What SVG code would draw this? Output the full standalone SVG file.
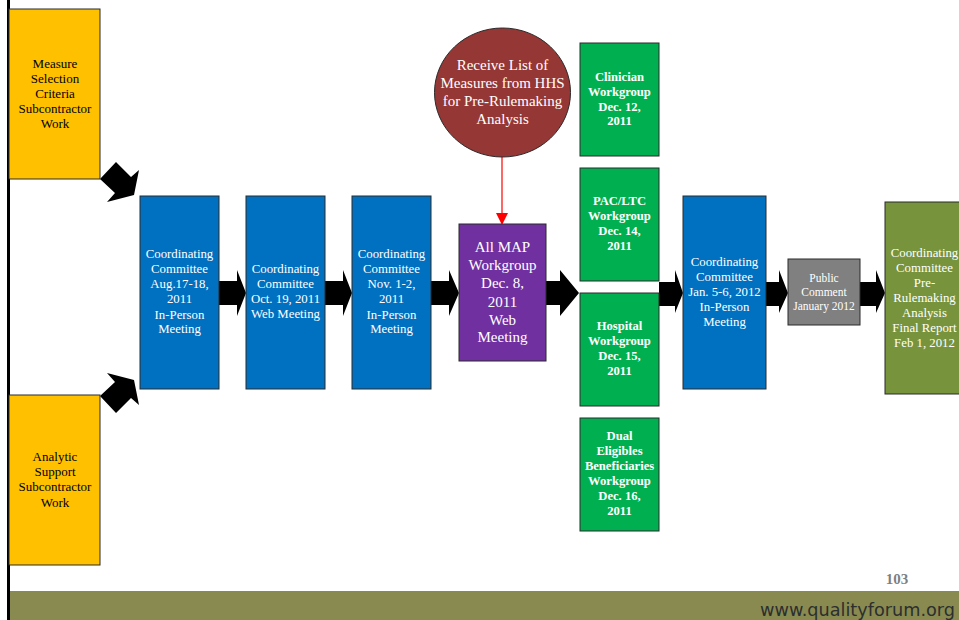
<svg xmlns="http://www.w3.org/2000/svg" width="959" height="620" viewBox="0 0 959 620">
<style>
.box{stroke:#2a2a2a;stroke-width:1}
.y{fill:#FFC000}
.b{fill:#0070C0}
.g{fill:#00B050}
.t{font-family:"Liberation Serif","Times New Roman",serif;text-anchor:middle}
.tk{fill:#000;font-size:13px}
.tw{fill:#fff;font-size:12.8px}
.tb{fill:#fff;font-size:12.6px;font-weight:bold}
.arr{fill:#000}
</style>
<rect x="0" y="0" width="959" height="620" fill="#fff"/>
<g id="footer">
<rect x="9" y="591" width="950" height="29" fill="#898A50"/>
<text x="760" y="616" font-family="DejaVu Sans,Verdana,sans-serif" font-size="18" fill="#2b2f2f" textLength="195" lengthAdjust="spacingAndGlyphs">www.qualityforum.org</text>
<text x="897" y="584" class="t" font-size="15" font-weight="bold" fill="#7f7f7f">103</text>
</g>
<line x1="8.5" y1="0" x2="8.5" y2="620" stroke="#000" stroke-width="3"/>
<g id="connectors">
<polygon class="arr" points="219,281 237,281 237,270 246,293 237,316 237,305 219,305"/>
<polygon class="arr" points="325,281 343,281 343,270 352,293 343,316 343,305 325,305"/>
<polygon class="arr" points="431,281 449,281 449,270 459,293 449,316 449,305 431,305"/>
<polygon class="arr" points="546,281 560,281 560,270 579,293 560,316 560,305 546,305"/>
<polygon class="arr" points="659,282 675,282 675,270 683,293 675,313 675,306 659,306"/>
<polygon class="arr" points="766,282 779,282 779,270 788,293 779,313 779,306 766,306"/>
<polygon class="arr" points="860,282 876,282 876,270 885,293 876,313 876,306 860,306"/>
<polygon class="arr" points="100,179 116,162 131,177 139,170 134,195 107,202 115,193"/>
<polygon class="arr" points="100,396 116,413 131,398 139,405 134,380 107,373 115,382"/>
<line x1="502" y1="157" x2="502" y2="214" stroke="#ff0000" stroke-width="1.2"/>
<polygon points="496,213 508,213 502,225" fill="#ff0000"/>
</g>
<g id="measure-selection">
<rect class="box y" x="9" y="9" width="91" height="170"/>
<text class="t tk"><tspan x="55" y="68">Measure</tspan><tspan x="55" y="83">Selection</tspan><tspan x="55" y="98">Criteria</tspan><tspan x="55" y="113">Subcontractor</tspan><tspan x="55" y="128">Work</tspan></text>
</g>
<g id="analytic-support">
<rect class="box y" x="9" y="395" width="91" height="170"/>
<text class="t tk"><tspan x="55" y="461">Analytic</tspan><tspan x="55" y="476">Support</tspan><tspan x="55" y="491">Subcontractor</tspan><tspan x="55" y="507">Work</tspan></text>
</g>
<g id="cc-aug">
<rect class="box b" x="140" y="196" width="79" height="193"/>
<text class="t tw"><tspan x="179.5" y="258">Coordinating</tspan><tspan x="179.5" y="273">Committee</tspan><tspan x="179.5" y="288">Aug.17-18,</tspan><tspan x="179.5" y="303">2011</tspan><tspan x="179.5" y="319">In-Person</tspan><tspan x="179.5" y="333">Meeting</tspan></text>
</g>
<g id="cc-oct">
<rect class="box b" x="246" y="196" width="79" height="193"/>
<text class="t tw"><tspan x="285.5" y="273">Coordinating</tspan><tspan x="285.5" y="288">Committee</tspan><tspan x="285.5" y="303">Oct. 19, 2011</tspan><tspan x="285.5" y="318">Web Meeting</tspan></text>
</g>
<g id="cc-nov">
<rect class="box b" x="352" y="196" width="79" height="193"/>
<text class="t tw"><tspan x="391.5" y="258">Coordinating</tspan><tspan x="391.5" y="273">Committee</tspan><tspan x="391.5" y="288">Nov. 1-2,</tspan><tspan x="391.5" y="303">2011</tspan><tspan x="391.5" y="319">In-Person</tspan><tspan x="391.5" y="333">Meeting</tspan></text>
</g>
<g id="receive-list">
<ellipse cx="502.5" cy="92.5" rx="68" ry="64.5" fill="#953735" stroke="#2a2a2a" stroke-width="1"/>
<text class="t" fill="#fff" font-size="15"><tspan x="502.5" y="70">Receive List of</tspan><tspan x="502.5" y="88">Measures from HHS</tspan><tspan x="502.5" y="106">for Pre-Rulemaking</tspan><tspan x="502.5" y="124">Analysis</tspan></text>
</g>
<g id="all-map">
<rect class="box" x="459" y="224" width="87" height="137" fill="#7030A0"/>
<text class="t" fill="#fff" font-size="15"><tspan x="502.5" y="252">All MAP</tspan><tspan x="502.5" y="270">Workgroup</tspan><tspan x="502.5" y="288">Dec. 8,</tspan><tspan x="502.5" y="307">2011</tspan><tspan x="502.5" y="325">Web</tspan><tspan x="502.5" y="342">Meeting</tspan></text>
</g>
<g id="clinician">
<rect class="box g" x="580" y="43" width="79" height="113"/>
<text class="t tb"><tspan x="619.5" y="81">Clinician</tspan><tspan x="619.5" y="96">Workgroup</tspan><tspan x="619.5" y="111">Dec. 12,</tspan><tspan x="619.5" y="125">2011</tspan></text>
</g>
<g id="pac-ltc">
<rect class="box g" x="580" y="168" width="79" height="113"/>
<text class="t tb"><tspan x="619.5" y="205">PAC/LTC</tspan><tspan x="619.5" y="220">Workgroup</tspan><tspan x="619.5" y="235">Dec. 14,</tspan><tspan x="619.5" y="250">2011</tspan></text>
</g>
<g id="hospital">
<rect class="box g" x="580" y="293" width="79" height="113"/>
<text class="t tb"><tspan x="619.5" y="330">Hospital</tspan><tspan x="619.5" y="345">Workgroup</tspan><tspan x="619.5" y="360">Dec. 15,</tspan><tspan x="619.5" y="375">2011</tspan></text>
</g>
<g id="dual-eligibles">
<rect class="box g" x="580" y="418" width="79" height="113"/>
<text class="t tb"><tspan x="619.5" y="440">Dual</tspan><tspan x="619.5" y="455">Eligibles</tspan><tspan x="619.5" y="470">Beneficiaries</tspan><tspan x="619.5" y="485">Workgroup</tspan><tspan x="619.5" y="500">Dec. 16,</tspan><tspan x="619.5" y="515">2011</tspan></text>
</g>
<g id="cc-jan">
<rect class="box b" x="683" y="196" width="83" height="193"/>
<text class="t tw"><tspan x="724.5" y="266">Coordinating</tspan><tspan x="724.5" y="281">Committee</tspan><tspan x="724.5" y="296">Jan. 5-6, 2012</tspan><tspan x="724.5" y="311">In-Person</tspan><tspan x="724.5" y="326">Meeting</tspan></text>
</g>
<g id="public-comment">
<rect class="box" x="788" y="259" width="72" height="66" fill="#808080"/>
<text class="t" fill="#fff" font-size="11.5"><tspan x="824" y="282">Public</tspan><tspan x="824" y="296">Comment</tspan><tspan x="824" y="310">January 2012</tspan></text>
</g>
<g id="final-report">
<rect class="box" x="885" y="202" width="80" height="192" fill="#77933C"/>
<text class="t tw" font-size="12.6"><tspan x="924.5" y="257">Coordinating</tspan><tspan x="924.5" y="272">Committee</tspan><tspan x="924.5" y="287">Pre-</tspan><tspan x="924.5" y="302">Rulemaking</tspan><tspan x="924.5" y="317">Analysis</tspan><tspan x="924.5" y="332">Final Report</tspan><tspan x="924.5" y="347">Feb 1, 2012</tspan></text>
</g>
</svg>
